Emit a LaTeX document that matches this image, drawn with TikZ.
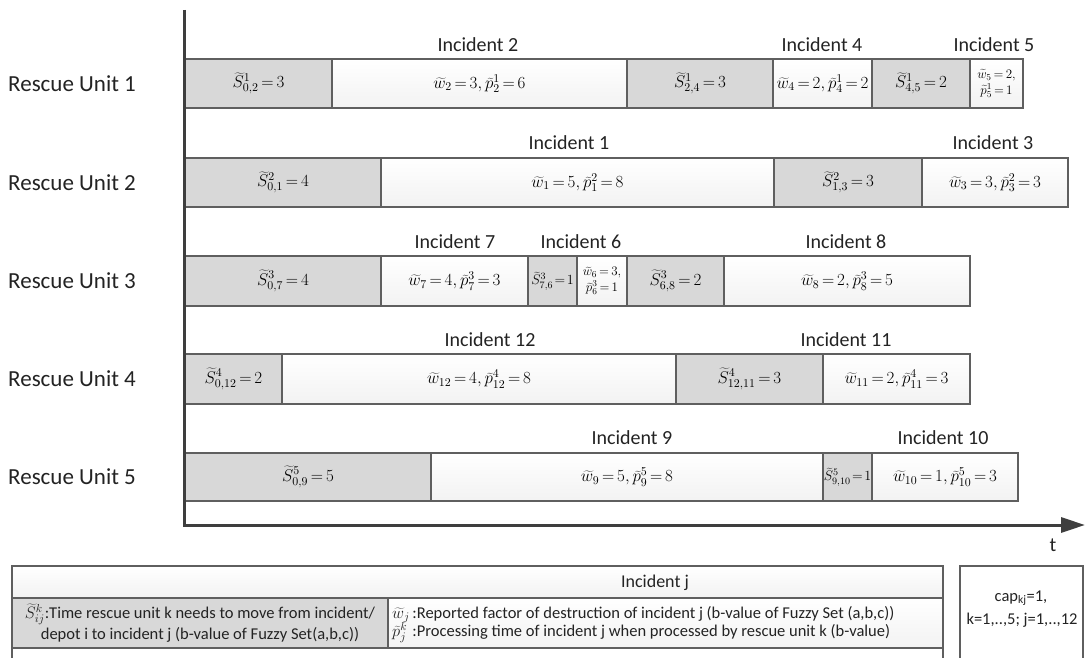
\RequirePackage{fix-cm}
\documentclass[tikz,border=0pt]{standalone}
\usepackage{fontspec}
\setmainfont{Carlito}
\usetikzlibrary{arrows.meta}
\definecolor{bordc}{RGB}{95,95,95}
\definecolor{grayc}{RGB}{216,216,216}
\definecolor{axisc}{RGB}{62,62,62}
\definecolor{txtc}{RGB}{35,35,35}
\newcommand\mkcell[7]{\node[#2, anchor=north west, minimum width={(#4-#3)*1pt}, minimum height={(#6-#5)*1pt}] (#1) at (#3,#5) {#7};}
\newcommand\E{\mskip-2mu=\mskip-2mu}
\begin{document}
\begin{tikzpicture}[x=1pt,y=-1pt,
  cellbase/.style={draw=bordc, line width=1.2pt, inner sep=0pt, outer sep=0pt, text=black, font=\fontsize{17}{20}\selectfont, align=center},
  gcell/.style={cellbase, fill=grayc},
  wcell/.style={cellbase, top color=white, bottom color=gray!10},
  smallc/.style={font=\fontsize{13}{16}\selectfont},
  narrowc/.style={font=\fontsize{14}{16}\selectfont},
  unitlbl/.style={font=\fontsize{23}{26}\selectfont, anchor=west, text=txtc, inner sep=0pt},
  inclbl/.style={font=\fontsize{20}{24}\selectfont, text=txtc, inner sep=0pt},
  legtxt/.style={font=\fontsize{16.5}{21}\selectfont, text=txtc, inner sep=0pt}
]
\useasboundingbox (0,0) rectangle (1085,658);

% ---------- Row 1
\mkcell{r1a}{gcell}{185}{332}{59}{108}{$\widetilde{S}^{1}_{0,2}\E 3$}
\mkcell{r1b}{wcell}{332}{627}{59}{108}{$\widetilde{w}_{2}\E 3,\widetilde{p}^{1}_{2}\E 6$}
\mkcell{r1c}{gcell}{627}{773}{59}{108}{$\widetilde{S}^{1}_{2,4}\E 3$}
\mkcell{r1d}{wcell}{773}{872}{59}{108}{$\widetilde{w}_{4}\E 2,\widetilde{p}^{1}_{4}\E 2$}
\mkcell{r1e}{gcell}{872}{970}{59}{108}{$\widetilde{S}^{1}_{4,5}\E 2$}
\mkcell{r1f}{wcell,smallc}{970}{1023}{59}{108}{$\widetilde{w}_{5}\E 2,$\\$\widetilde{p}^{1}_{5}\E 1$}

% ---------- Row 2
\mkcell{r2a}{gcell}{185}{381}{158}{207}{$\widetilde{S}^{2}_{0,1}\E 4$}
\mkcell{r2b}{wcell}{381}{774}{158}{207}{$\widetilde{w}_{1}\E 5,\widetilde{p}^{2}_{1}\E 8$}
\mkcell{r2c}{gcell}{774}{922}{158}{207}{$\widetilde{S}^{2}_{1,3}\E 3$}
\mkcell{r2d}{wcell}{922}{1068}{158}{207}{$\widetilde{w}_{3}\E 3,\widetilde{p}^{2}_{3}\E 3$}

% ---------- Row 3
\mkcell{r3a}{gcell}{185}{381}{256}{306}{$\widetilde{S}^{3}_{0,7}\E 4$}
\mkcell{r3b}{wcell}{381}{528}{256}{306}{$\widetilde{w}_{7}\E 4,\widetilde{p}^{3}_{7}\E 3$}
\mkcell{r3c}{gcell,narrowc}{528}{577}{256}{306}{$\widetilde{S}^{3}_{7,6}\!=\!1$}
\mkcell{r3d}{wcell,smallc}{577}{627}{256}{306}{$\widetilde{w}_{6}\E 3,$\\$\widetilde{p}^{3}_{6}\E 1$}
\mkcell{r3e}{gcell}{627}{724}{256}{306}{$\widetilde{S}^{3}_{6,8}\E 2$}
\mkcell{r3f}{wcell}{724}{970}{256}{306}{$\widetilde{w}_{8}\E 2,\widetilde{p}^{3}_{8}\E 5$}

% ---------- Row 4
\mkcell{r4a}{gcell}{185}{282}{354}{404}{$\widetilde{S}^{4}_{0,12}\E 2$}
\mkcell{r4b}{wcell}{282}{676}{354}{404}{$\widetilde{w}_{12}\E 4,\widetilde{p}^{4}_{12}\E 8$}
\mkcell{r4c}{gcell}{676}{823}{354}{404}{$\widetilde{S}^{4}_{12,11}\E 3$}
\mkcell{r4d}{wcell}{823}{970}{354}{404}{$\widetilde{w}_{11}\E 2,\widetilde{p}^{4}_{11}\E 3$}

% ---------- Row 5
\mkcell{r5a}{gcell}{185}{431}{453}{501}{$\widetilde{S}^{5}_{0,9}\E 5$}
\mkcell{r5b}{wcell}{431}{823}{453}{501}{$\widetilde{w}_{9}\E 5,\widetilde{p}^{5}_{9}\E 8$}
\mkcell{r5c}{gcell,narrowc}{823}{872}{453}{501}{$\widetilde{S}^{5}_{9,10}\!=\!1$}
\mkcell{r5d}{wcell}{872}{1018}{453}{501}{$\widetilde{w}_{10}\E 1,\widetilde{p}^{5}_{10}\E 3$}

% ---------- Unit labels
\node[unitlbl] (u1) at (8,84) {Rescue Unit 1};
\node[unitlbl] (u2) at (8,183) {Rescue Unit 2};
\node[unitlbl] (u3) at (8,281) {Rescue Unit 3};
\node[unitlbl] (u4) at (8,379) {Rescue Unit 4};
\node[unitlbl] (u5) at (8,477) {Rescue Unit 5};

% ---------- Incident labels
\node[inclbl] (i2) at (478,45) {Incident 2};
\node[inclbl] (i4) at (822,45) {Incident 4};
\node[inclbl] (i5) at (994,45) {Incident 5};
\node[inclbl] (i1) at (569,143) {Incident 1};
\node[inclbl] (i3) at (993,143) {Incident 3};
\node[inclbl] (i7) at (455,242) {Incident 7};
\node[inclbl] (i6) at (581,242) {Incident 6};
\node[inclbl] (i8) at (846,242) {Incident 8};
\node[inclbl] (i12) at (490,340) {Incident 12};
\node[inclbl] (i11) at (846,340) {Incident 11};
\node[inclbl] (i9) at (632,438) {Incident 9};
\node[inclbl] (i10) at (943,438) {Incident 10};

% ---------- Axes
\coordinate (ytop) at (184,10);
\coordinate (orig) at (184,525);
\coordinate (xend) at (1085,525);
\draw[axisc, line width=3pt, -{Triangle[length=24pt,width=15pt]}] (ytop) -- (orig) -- (xend);
\node[inclbl] (tl) at (1053,545) {t};

% ---------- Legend
\mkcell{legtop}{wcell}{12}{943}{566}{598}{}
\node[legtxt, font=\fontsize{18}{21}\selectfont] (legj) at (655,583) {Incident j};
\mkcell{leggray}{gcell, legtxt}{12}{388}{598}{648}{$\widetilde{S}^{k}_{ij}$:Time rescue unit k needs to move from incident/\\depot i to incident j (b-value of Fuzzy Set(a,b,c))}
\mkcell{legwhite}{wcell}{388}{943}{598}{648}{}
\node[legtxt, anchor=west] (legdesc) at (392,623) {\begin{tabular}{@{}l@{\,}l@{}}$\widetilde{w}_{j}$ & :Reported factor of destruction of incident j (b-value of Fuzzy Set (a,b,c))\\[-3pt] $\widetilde{p}^{k}_{j}$ & :Processing time of incident j when processed by rescue unit k (b-value)\end{tabular}};
\draw[draw=bordc, line width=1.2pt] (12,648) -- (12,658) (943,648) -- (943,658);

% ---------- cap box
\draw[draw=bordc, line width=1.2pt] (960,658) -- (960,566) -- (1083,566) -- (1083,658);
\node[legtxt] (cap1) at (1021,598) {cap$_{\mathrm{kj}}$=1,};
\node[legtxt] (cap2) at (1022,620) {k=1,..,5; j=1,..,12};
\end{tikzpicture}
\end{document}
